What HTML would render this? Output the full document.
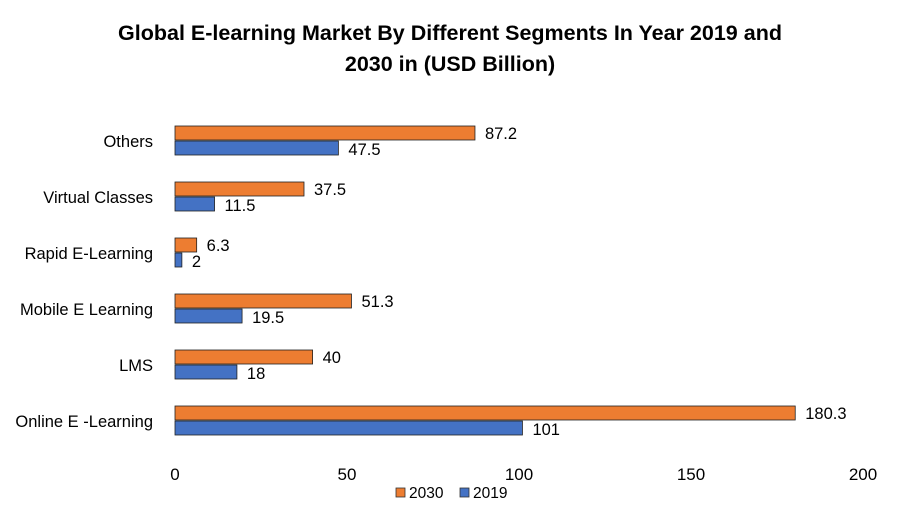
<!DOCTYPE html>
<html><head><meta charset="utf-8"><style>
body{margin:0;background:#fff;}
svg text{font-family:"Liberation Sans",sans-serif;fill:#000;}
</style></head><body>
<svg id="chart" width="900" height="525">
<text x="450" y="40" text-anchor="middle" font-size="21.5" font-weight="bold">Global E-learning Market By Different Segments In Year 2019 and</text>
<text x="450" y="71" text-anchor="middle" font-size="21.5" font-weight="bold">2030 in (USD Billion)</text>
<g id="plot"></g>
<g>
<rect x="396" y="488" width="9" height="9" fill="#ED7D31" stroke="#333" stroke-width="0.8"></rect>
<text x="409" y="498" font-size="15.5">2030</text>
<rect x="460" y="488" width="9" height="9" fill="#4472C4" stroke="#333" stroke-width="0.8"></rect>
<text x="473" y="498" font-size="15.5">2019</text>
</g>
</svg>
<script>
const categories=["Others","Virtual Classes","Rapid E-Learning","Mobile E Learning","LMS","Online E -Learning"];
const values2030=[87.2,37.5,6.3,51.3,40,180.3];
const values2019=[47.5,11.5,2,19.5,18,101];
const labels2030=["87.2","37.5","6.3","51.3","40","180.3"];
const labels2019=["47.5","11.5","2","19.5","18","101"];
const ticks=[0,50,100,150,200];
const ns="http://www.w3.org/2000/svg";
const g=document.getElementById('plot');
const x=v=>175+v*3.44;
const yc=i=>141+i*56;
function mk(t,a){const e=document.createElementNS(ns,t);for(const k in a)e.setAttribute(k,a[k]);g.appendChild(e);return e;}
ticks.forEach(t=>{const e=mk('text',{x:x(t),y:480,'text-anchor':'middle','font-size':17});e.textContent=t;

});
categories.forEach((c,i)=>{
const l=mk('text',{x:153,y:yc(i)+6,'text-anchor':'end','font-size':16.5});l.textContent=c;


const b1=mk('rect',{x:x(0),y:yc(i)-15,width:x(values2030[i])-x(0),height:14,fill:'#ED7D31',stroke:'#222','stroke-width':0.8});


const b2=mk('rect',{x:x(0),y:yc(i),width:x(values2019[i])-x(0),height:14,fill:'#4472C4',stroke:'#222','stroke-width':0.8});


const t1=mk('text',{x:x(values2030[i])+10,y:yc(i)-2,'font-size':16.5});t1.textContent=labels2030[i];


const t2=mk('text',{x:x(values2019[i])+10,y:yc(i)+14,'font-size':16.5});t2.textContent=labels2019[i];


});
</script>
</body></html>
